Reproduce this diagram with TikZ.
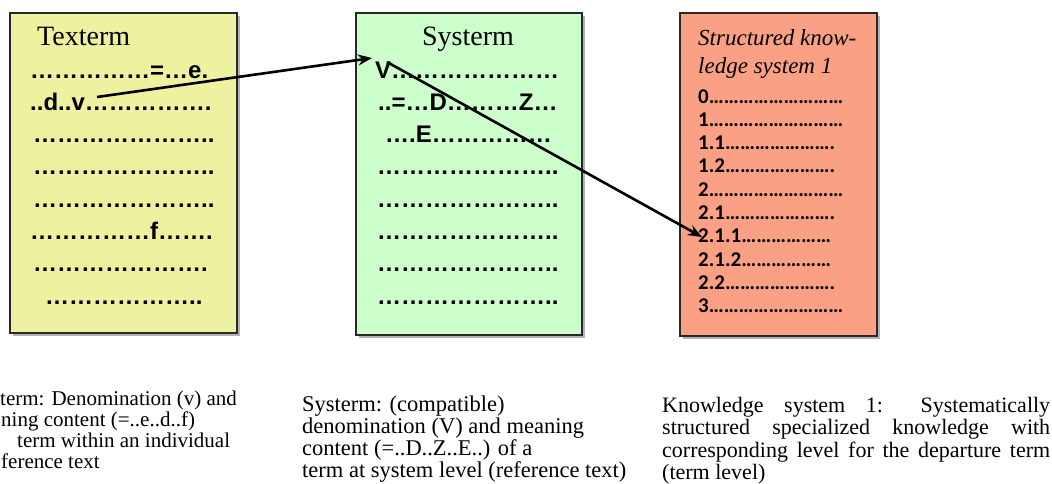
\documentclass[tikz,border=0pt]{standalone}
\usepackage{fontspec}
\setmainfont{Liberation Serif}
\newfontfamily\dotsfont{Liberation Sans}
\newfontfamily\numfont{Carlito}
\usetikzlibrary{arrows.meta}
\definecolor{textermfill}{RGB}{237, 241, 160}
\definecolor{systermfill}{RGB}{204, 255, 204}
\definecolor{knowfill}{RGB}{250, 160, 132}
\definecolor{boxline}{RGB}{40, 40, 40}
% a run of n ellipsis glyphs
\newcommand{\dotsrun}[1]{\foreach \k in {1,...,#1}{\textellipsis}}
\tikzset{
    termbox/.style={draw=boxline, line width=1.8pt},
    boxshadow/.style={fill=black!30},
    boxtitle/.style={anchor=base, inner sep=0pt, font=\fontsize{28}{28}\selectfont},
    dotline/.style={anchor=base west, inner sep=0pt,
        font=\dotsfont\bfseries\fontsize{24}{24}\selectfont},
    numline/.style={anchor=base west, inner sep=0pt,
        font=\numfont\bfseries\fontsize{21}{21}\selectfont},
    notetext/.style={anchor=base west, inner sep=0pt,
        font=\fontsize{22}{22}\selectfont},
    linkarrow/.style={line width=2.6pt, -{Stealth[length=14pt, width=11pt]}},
}

\begin{document}
\begin{tikzpicture}[x=1pt, y=-1pt]
    \useasboundingbox (0, 0) rectangle (1052, 483);
    \clip (0, 0) rectangle (1052, 483);
    % the three boxes, each with a thin shadow
    \foreach \left/\right/\bottom/\col in {10/237/333/textermfill,
            356/582/335/systermfill, 680/877/336/knowfill} {
        \fill[boxshadow] (\left+2.5, 15.5) rectangle (\right+2.5, \bottom+2.5);
        \filldraw[termbox, fill=\col] (\left, 13) rectangle (\right, \bottom);
    }

    % Texterm
    \node[boxtitle, anchor=base west] (textitle) at (37, 45) {Texterm};
    \foreach \x/\txt [count=\i] in {30/\dotsrun{5}=\dotsrun{1}e.,
            30/..d..v\dotsrun{5}., 33/\dotsrun{7}.., 33/\dotsrun{7}..,
            33/\dotsrun{7}.., 30/\dotsrun{5}f\dotsrun{2}., 33/\dotsrun{7}.,
            45/\dotsrun{6}..} {
        \node[dotline] (texline\i) at (\x, 78+32.3*\i-32.3) {\txt};
    }

    % Systerm
    \node[boxtitle] (systitle) at (468, 45) {Systerm};
    \foreach \x/\txt [count=\i] in {375/V\dotsrun{7},
            378/..=\dotsrun{1}D\dotsrun{3}Z\dotsrun{1},
            385/\dotsrun{1}.E\dotsrun{5}, 377/\dotsrun{7}..,
            377/\dotsrun{7}.., 377/\dotsrun{7}.., 377/\dotsrun{7}..,
            377/\dotsrun{7}..} {
        \node[dotline] (sysline\i) at (\x, 78+32.3*\i-32.3) {\txt};
    }

    % structured knowledge system
    \node[anchor=base west, inner sep=0pt, font=\itshape\fontsize{23}{23}\selectfont]
        (knowtitle1) at (698, 45) {Structured know-};
    \node[anchor=base west, inner sep=0pt, font=\itshape\fontsize{23}{23}\selectfont]
        (knowtitle2) at (698, 73) {ledge system 1};
    \foreach \txt [count=\i] in {0\dotsrun{9}, 1\dotsrun{9}, 1.1\dotsrun{7}.,
            1.2\dotsrun{7}., 2\dotsrun{9}, 2.1\dotsrun{7}., 2.1.1\dotsrun{6},
            2.1.2\dotsrun{6}, 2.2\dotsrun{7}., 3\dotsrun{9}} {
        \node[numline] (level\i) at (698, 103+23.3*\i-23.3) {\txt};
    }

    % the term is followed up from text to system to knowledge level
    \coordinate (v-text) at (97, 97);
    \coordinate (v-sys-in) at (372, 58);
    \coordinate (v-sys-out) at (387, 62);
    \coordinate (level-211) at (702, 237);
    \draw[linkarrow] (v-text) -- (v-sys-in);
    \draw[linkarrow] (v-sys-out) -- (level-211);

    % notes under the boxes
    \foreach \x/\txt [count=\i] in {0/term: Denomination (v) and,
            1/ning content (=..e..d..f), 17/term within an individual,
            1/ference text} {
        \node[notetext, font=\fontsize{21}{21}\selectfont] (texnote\i)
            at (\x, 405+21*\i-21) {\txt};
    }
    \foreach \txt [count=\i] in {Systerm: (compatible),
            denomination (V) and meaning, content (=..D..Z..E..) of a,
            term at system level (reference text)} {
        \node[notetext, font=\fontsize{22.5}{22.5}\selectfont] (sysnote\i)
            at (302, 411+22*\i-22) {\txt};
    }
    \foreach \txt [count=\i] in {Knowledge system 1: Systematically,
            structured specialized knowledge with,
            corresponding level for the departure term} {
        \node[notetext] (knownote\i) at (662, 412+22.5*\i-22.5)
            {\makebox[388pt][s]{\txt}};
    }
    \node[notetext] (knownote4) at (662, 479.5) {(term level)};
\end{tikzpicture}
\end{document}
